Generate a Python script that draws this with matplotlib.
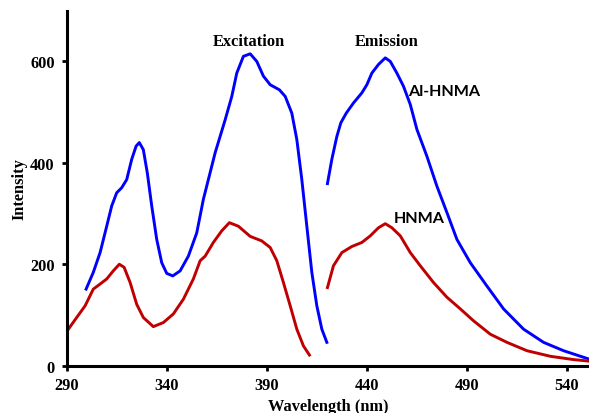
# excitation / emission spectra of HNMA and its Al complex
import matplotlib.pyplot as plt

serif = ['Liberation Serif', 'DejaVu Serif']
sans = ['Lato', 'DejaVu Sans']

# Al-HNMA, excitation
al_ex_x = [299.7, 303.3, 306.7, 310.0, 312.5, 315.0, 317.5, 320.0, 322.5, 324.7, 326.3, 328.3,
           330.3, 332.5, 335.0, 337.5, 340.0, 343.0, 346.7, 350.8, 355.0, 358.3, 364.2, 369.2,
           372.5, 375.0, 378.3, 381.7, 385.0, 388.3, 391.7, 396.3, 399.2, 402.5, 405.0, 407.5,
           410.0, 412.5, 415.0, 417.5, 420.0]
al_ex_y = [151, 184, 223, 275, 315, 341, 351, 367, 407, 433, 440, 426,
           380, 315, 249, 203, 182, 177, 187, 216, 262, 328, 420, 485,
           531, 577, 610, 615, 600, 571, 554, 544, 531, 498, 446, 367,
           275, 184, 118, 72, 46]
# Al-HNMA, emission
al_em_x = [420.3, 422.5, 425.0, 427.0, 429.7, 433.3, 437.5, 440.0, 442.5, 445.8, 449.2, 451.7,
           455.0, 458.3, 461.7, 465.0, 470.0, 475.0, 480.0, 485.0, 491.7, 500.0, 508.3, 518.3,
           528.3, 538.3, 551.0]
al_em_y = [359, 407, 452, 479, 498, 518, 538, 554, 577, 594, 607, 600,
           577, 551, 515, 466, 413, 354, 302, 249, 203, 157, 112, 72,
           46, 29.5, 13]
# HNMA, excitation
hn_ex_x = [290.3, 295.0, 299.2, 303.3, 306.7, 310.0, 313.3, 316.3, 318.7, 321.7, 325.0, 328.3,
           333.3, 338.3, 343.3, 348.3, 353.3, 356.7, 359.2, 363.3, 367.5, 371.3, 375.8, 381.7,
           387.5, 391.7, 395.0, 398.3, 401.7, 405.0, 408.3, 411.3]
hn_ex_y = [69, 95, 118, 151, 161, 171, 187, 200, 194, 164, 121, 95,
           77, 85, 102, 131, 171, 207, 216, 243, 266, 282, 275, 255,
           246, 233, 207, 164, 118, 72, 39, 21]
# HNMA, emission
hn_em_x = [420.3, 423.3, 427.5, 432.5, 437.5, 441.7, 445.8, 449.2, 452.5, 456.7, 461.7, 466.7,
           473.3, 480.0, 486.7, 493.3, 501.7, 510.0, 520.0, 531.7, 543.3, 551.0]
hn_em_y = [154, 197, 223, 235, 243, 256, 272, 280, 272, 256, 223, 197,
           164, 135, 112, 88.5, 62, 46, 29.5, 18.5, 12, 9]

blue = '#0000ff'
red = '#c00000'

fig = plt.figure(figsize=(5.89, 4.14), dpi=100)
ax = fig.add_axes([0.1132, 0.1143, 0.8868, 0.8574])

ax.plot(al_ex_x, al_ex_y, color=blue, lw=2.1)
ax.plot(al_em_x, al_em_y, color=blue, lw=2.1)
ax.plot(hn_ex_x, hn_ex_y, color=red, lw=2.1)
ax.plot(hn_em_x, hn_em_y, color=red, lw=2.1)

ax.set_xlim(290, 551)
ax.set_ylim(0, 700)
ax.set_xticks([290, 340, 390, 440, 490, 540])
ax.set_yticks([0, 200, 400, 600])

for s in ['top', 'right']:
    ax.spines[s].set_visible(False)
for s in ['left', 'bottom']:
    ax.spines[s].set_linewidth(2.2)
    ax.spines[s].set_color('black')
ax.tick_params(width=2, length=3.5, direction='out', pad=5)
for lbl in ax.get_xticklabels() + ax.get_yticklabels():
    lbl.set_family(serif)
    lbl.set_fontweight('bold')
    lbl.set_fontsize(11.8)

ax.set_xlabel('Wavelength (nm)', family=serif, fontweight='bold', fontsize=11.8, labelpad=3)
ax.set_ylabel('Intensity', family=serif, fontweight='bold', fontsize=11.8, labelpad=2)

ax.text(381, 641, 'Excitation', family=serif, fontweight='bold', fontsize=11.8,
        ha='center', va='center')
ax.text(449.7, 641, 'Emission', family=serif, fontweight='bold', fontsize=11.8,
        ha='center', va='center')
ax.text(460.8, 541, 'Al-HNMA', family=sans, fontweight='bold',
        fontsize=11.6, ha='left', va='center')
ax.text(453.3, 292, 'HNMA', family=sans, fontweight='bold',
        fontsize=11.6, ha='left', va='center')

fig.savefig('out.png', dpi=100)
